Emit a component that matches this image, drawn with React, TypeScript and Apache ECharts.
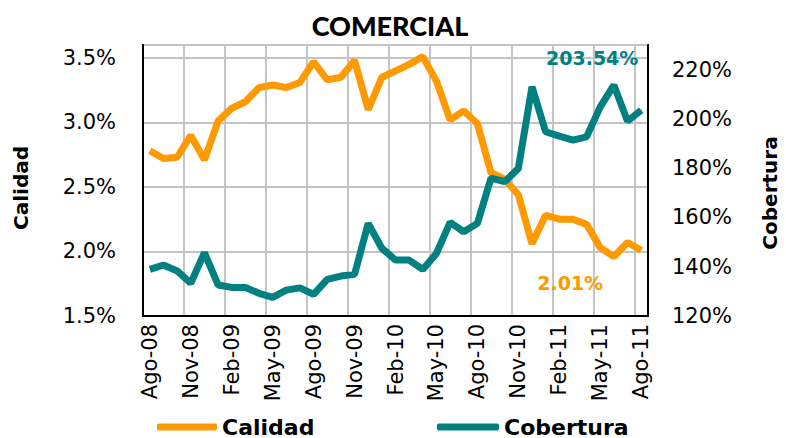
import React, { useEffect, useRef } from "react";
import * as echarts from "echarts";

const categories = [
  "Ago-08", "Sep-08", "Oct-08", "Nov-08", "Dic-08", "Ene-09", "Feb-09", "Mar-09", "Abr-09", "May-09", "Jun-09", "Jul-09",
  "Ago-09", "Sep-09", "Oct-09", "Nov-09", "Dic-09", "Ene-10", "Feb-10", "Mar-10", "Abr-10", "May-10", "Jun-10", "Jul-10",
  "Ago-10", "Sep-10", "Oct-10", "Nov-10", "Dic-10", "Ene-11", "Feb-11", "Mar-11", "Abr-11", "May-11", "Jun-11", "Jul-11",
  "Ago-11",
];

const calidad = [
  2.78, 2.72, 2.73, 2.9, 2.71, 3.01, 3.11, 3.16, 3.27, 3.29, 3.27, 3.31,
  3.47, 3.33, 3.35, 3.48, 3.1, 3.35, 3.4, 3.45, 3.51, 3.32, 3.02, 3.09,
  2.99, 2.61, 2.56, 2.44, 2.06, 2.28, 2.25, 2.25, 2.21, 2.03, 1.96, 2.07,
  2.01,
];

const cobertura = [
  138.9, 140.7, 138.3, 133.3, 145.7, 132.6, 131.6, 131.6, 129.2, 127.6, 130.5, 131.4,
  128.8, 134.9, 136.2, 136.9, 157.6, 147.5, 142.7, 142.7, 138.9, 145.4, 158.0, 154.2,
  157.6, 176.0, 174.5, 179.9, 213.0, 194.8, 193.0, 191.4, 192.7, 204.9, 213.7, 199.1,
  203.54,
];

const ORANGE = "#FF9900";
const TEAL = "#008080";
const FONT = "DejaVu Sans";

export default function App() {
  const ref = useRef<HTMLDivElement>(null);

  useEffect(() => {
    document.body.style.margin = "0";
    if (!ref.current) return;
    const chart = echarts.init(ref.current, undefined, { renderer: "svg" });

    const lastIdx = calidad.length - 1;
    const calData = calidad.map((v, i) =>
      i === lastIdx
        ? {
            value: v,
            symbol: "circle",
            symbolSize: 1,
            label: {
              show: true,
              position: "bottom",
              offset: [-71, 18],
              formatter: (p: any) => p.value.toFixed(2) + "%",
              color: ORANGE,
              fontFamily: FONT,
              fontWeight: "bold",
              fontSize: 19,
            },
          }
        : v
    );
    const cobData = cobertura.map((v, i) =>
      i === lastIdx
        ? {
            value: v,
            symbol: "circle",
            symbolSize: 1,
            label: {
              show: true,
              position: "top",
              offset: [-49, -37],
              formatter: (p: any) => p.value.toFixed(2) + "%",
              color: TEAL,
              fontFamily: FONT,
              fontWeight: "bold",
              fontSize: 19,
            },
          }
        : v
    );

    chart.setOption({
      animation: false,
      backgroundColor: "#fff",
      title: {
        text: "COMERCIAL",
        left: 385,
        top: 7,
        textAlign: "center",
        textStyle: { fontFamily: "Lato", fontWeight: 900, fontSize: 27, color: "#000" },
      },
      grid: {
        left: 143,
        right: 138,
        top: 45,
        bottom: 122,
        show: true,
        borderColor: "#000",
        borderWidth: 2,
        backgroundColor: "transparent",
        containLabel: false,
      },
      legend: [
        {
          data: ["Calidad"],
          left: 157,
          top: 416,
          padding: 0,
          icon: "roundRect",
          itemWidth: 60,
          itemHeight: 7,
          textStyle: { fontFamily: FONT, fontWeight: "bold", fontSize: 22, color: "#000" },
        },
        {
          data: ["Cobertura"],
          left: 437,
          top: 416,
          padding: 0,
          icon: "roundRect",
          itemWidth: 62,
          itemHeight: 7,
          textStyle: { fontFamily: FONT, fontWeight: "bold", fontSize: 22, color: "#000" },
        },
      ],
      xAxis: {
        type: "category",
        data: categories,
        boundaryGap: true,
        axisLine: { show: true, lineStyle: { color: "#000", width: 2 } },
        axisTick: { show: false },
        axisLabel: {
          interval: 2,
          rotate: 90,
          margin: 8,
          fontFamily: FONT,
          fontSize: 21,
          color: "#000",
        },
        splitLine: { show: true, interval: 2, lineStyle: { color: "#c4c4c4", width: 2 } },
      },
      yAxis: [
        {
          type: "value",
          min: 1.5,
          max: 3.6,
          interval: 0.5,
          position: "left",
          axisLine: { show: true, lineStyle: { color: "#000", width: 2 } },
          axisTick: { show: false },
          axisLabel: {
            showMaxLabel: false,
            margin: 27,
            formatter: (v: number) => v.toFixed(1) + "%",
            fontFamily: FONT,
            fontSize: 21,
            color: "#000",
          },
          splitLine: { show: true, lineStyle: { color: "#c4c4c4", width: 2 } },
        },
        {
          type: "value",
          min: 120,
          max: 230,
          interval: 20,
          position: "right",
          axisLine: { show: true, lineStyle: { color: "#000", width: 2 } },
          axisTick: { show: false },
          axisLabel: {
            showMaxLabel: false,
            margin: 24,
            formatter: (v: number) => v + "%",
            fontFamily: FONT,
            fontSize: 21,
            color: "#000",
          },
          splitLine: { show: false },
        },
      ],
      graphic: [
        {
          type: "text",
          x: 21,
          y: 188,
          rotation: Math.PI / 2,
          style: {
            text: "Calidad",
            fontFamily: FONT,
            fontWeight: "bold",
            fontSize: 20,
            fill: "#000",
            align: "center",
            verticalAlign: "middle",
          },
        },
        {
          type: "text",
          x: 770,
          y: 193,
          rotation: Math.PI / 2,
          style: {
            text: "Cobertura",
            fontFamily: FONT,
            fontWeight: "bold",
            fontSize: 20,
            fill: "#000",
            align: "center",
            verticalAlign: "middle",
          },
        },
      ],
      series: [
        {
          name: "Calidad",
          type: "line",
          yAxisIndex: 0,
          data: calData,
          symbol: "none",
          showAllSymbol: true,
          lineStyle: { color: ORANGE, width: 7 },
          itemStyle: { color: ORANGE },
          z: 3,
        },
        {
          name: "Cobertura",
          type: "line",
          yAxisIndex: 1,
          data: cobData,
          symbol: "none",
          showAllSymbol: true,
          lineStyle: { color: TEAL, width: 7 },
          itemStyle: { color: TEAL },
          z: 4,
        },
      ],
    });

    return () => chart.dispose();
  }, []);

  return (
    <div
      ref={ref}
      style={{ position: "fixed", left: 0, top: 0, width: 786, height: 438 }}
    />
  );
}
